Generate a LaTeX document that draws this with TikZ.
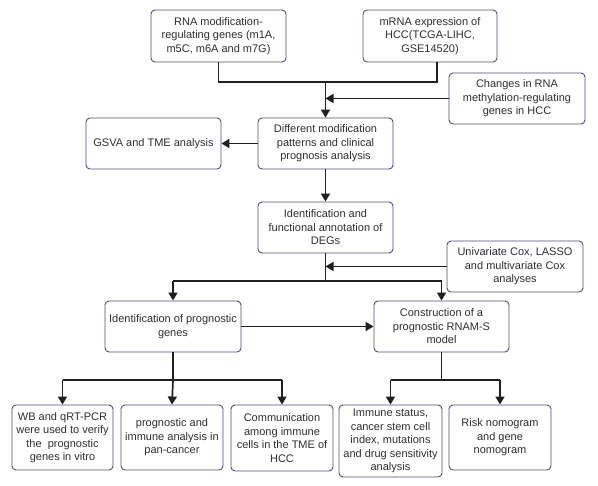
\documentclass[tikz,border=0pt]{standalone}
\usepackage{fontspec}
\setmainfont{Liberation Sans}
\usetikzlibrary{arrows.meta,calc}
\definecolor{boxline}{HTML}{4A4E78}
\definecolor{txt}{HTML}{2E2E2E}
\tikzset{
  box/.style={draw=boxline, line width=0.9pt, rounded corners=4pt, align=center,
    text=txt, font=\fontsize{11}{13.5}\selectfont, inner sep=2pt, fill=white},
  link/.style={line width=1.7pt, draw=black!88},
  arr/.style={link, -{Triangle[width=9pt,length=8pt]}},
}
\begin{document}
\begin{tikzpicture}[x=1pt,y=-1pt]
\useasboundingbox (0,0) rectangle (598,486);
\node[box, minimum width=135pt, minimum height=52pt] (b1) at (218.5,36) {RNA modification-\\regulating genes (m1A,\\m5C, m6A and m7G)};
\node[box, minimum width=134pt, minimum height=52pt] (b2) at (430,36) {mRNA expression of\\HCC(TCGA-LIHC,\\GSE14520)};
\node[box, minimum width=136pt, minimum height=51pt] (b3) at (517,98.5) {Changes in RNA\\methylation-regulating\\genes in HCC};
\node[box, minimum width=135pt, minimum height=51pt] (gsva) at (153.5,143.5) {GSVA and TME analysis};
\node[box, minimum width=135pt, minimum height=51pt] (diff) at (325.5,143.5) {Different modification\\patterns and clinical\\prognosis analysis};
\node[box, minimum width=135pt, minimum height=51pt] (degs) at (325.5,227.5) {Identification and\\functional annotation of\\DEGs};
\node[box, minimum width=136pt, minimum height=51pt] (cox) at (515,266.5) {Univariate Cox, LASSO\\and multivariate Cox\\analyses};
\node[box, minimum width=136pt, minimum height=51pt] (pg) at (173,326.5) {Identification of prognostic\\genes};
\node[box, minimum width=135pt, minimum height=51pt] (cons) at (441.5,326.5) {Construction of a\\prognostic RNAM-S\\model};
\node[box, minimum width=101pt, minimum height=65pt] (wb) at (62.5,437.5) {WB and qRT-PCR\\were used to verify\\the\ \ prognostic\\genes in vitro};
\node[box, minimum width=102pt, minimum height=65pt] (pan) at (172,437.5) {prognostic and\\immune analysis in\\pan-cancer};
\node[box, minimum width=102pt, minimum height=66pt] (comm) at (282,438) {Communication\\among immune\\cells in the TME of\\HCC};
\node[box, minimum width=103pt, minimum height=72pt] (imm) at (390.5,441) {Immune status,\\cancer stem cell\\index, mutations\\and drug sensitivity\\analysis};
\node[box, minimum width=102pt, minimum height=65pt] (risk) at (500,437.5) {Risk nomogram\\and gene\\nomogram};

\coordinate (j1) at (325.5,82);
\coordinate (j2) at (325.5,281);
\coordinate (j3) at (173,380);
\coordinate (j4) at (441.5,380);

\draw[link] (b1.south) |- (j1) -| ([xshift=7pt]b2.south);
\draw[arr] (j1) -- (diff.north);
\draw[arr] (b3.west) -- (b3.west -| diff.north);
\draw[arr] (diff.west) -- (gsva.east);
\draw[arr] (diff.south) -- (degs.north);
\draw[link] (degs.south) -- (j2);
\draw[link] (pg.north |- j2) -- (cons.north |- j2);
\draw[arr] (pg.north |- j2) -- (pg.north);
\draw[arr] (cons.north |- j2) -- (cons.north);
\draw[arr] (cox.west) -- (cox.west -| degs.south);
\draw[arr] (pg.east) -- (cons.west);
\draw[link] (pg.south) -- (j3);
\draw[link] (wb.north |- j3) -- (comm.north |- j3);
\draw[arr] (wb.north |- j3) -- (wb.north);
\draw[arr] (j3) -- (pan.north);
\draw[arr] (comm.north |- j3) -- (comm.north);
\draw[link] (cons.south) -- (j4);
\draw[link] (imm.north |- j4) -- (risk.north |- j4);
\draw[arr] (imm.north |- j4) -- (imm.north);
\draw[arr] (risk.north |- j4) -- (risk.north);
\end{tikzpicture}
\end{document}
